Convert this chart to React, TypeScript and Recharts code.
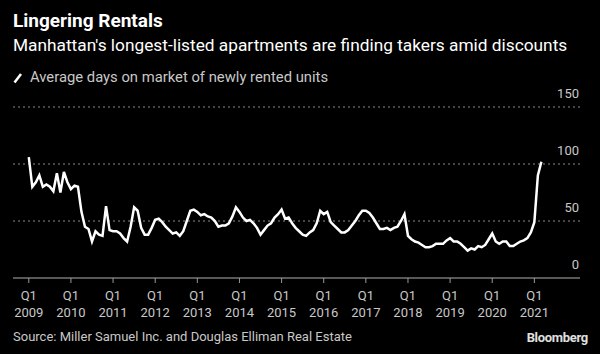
import React from "react";
import { LineChart, Line, XAxis, YAxis, CartesianGrid } from "recharts";

// Monthly average days on market, Jan 2009 - Mar 2021
const daysOnMarket: number[] = [
  106, 80, 84, 90, 80, 82, 80, 76, 92, 75, 93, 84, // 2009
  78, 81, 80, 58, 45, 43, 32, 41, 38, 37, 63, 42, // 2010
  41, 41, 39, 35, 32, 45, 62, 59, 44, 38, 38, 44, // 2011
  51, 52, 49, 45, 42, 39, 40, 37, 41, 50, 59, 60, // 2012
  58, 55, 56, 54, 53, 50, 45, 46, 46, 48, 54, 62, // 2013
  58, 53, 50, 51, 48, 44, 38, 42, 46, 48, 53, 56, // 2014
  60, 52, 53, 48, 44, 41, 38, 37, 40, 42, 48, 59, // 2015
  56, 58, 49, 46, 43, 40, 40, 42, 46, 50, 55, 59, // 2016
  59, 57, 53, 48, 43, 43, 44, 42, 44, 45, 50, 56, // 2017
  37, 34, 32, 31, 29, 27, 27, 28, 30, 30, 30, 33, // 2018
  35, 32, 32, 30, 27, 24, 26, 25, 28, 27, 29, 34, // 2019
  39, 32, 30, 32, 32, 28, 28, 30, 32, 33, 35, 40, // 2020
  49, 90, 102, // 2021
];

const startYear = 2009;
const tickYears = ["2009", "2010", "2011", "2012", "2013", "2014", "2015", "2016", "2017", "2018", "2019", "2020", "2021"];
const yTicks = [0, 50, 100, 150];

const data = daysOnMarket.map((v, i) => ({
  idx: i,
  month: `${startYear + Math.floor(i / 12)}-${String((i % 12) + 1).padStart(2, "0")}`,
  days: v,
}));

const xTicks = tickYears.map((_, i) => i * 12);

const FONT = "Roboto, 'Noto Sans', sans-serif";

const XTick = (props: any) => {
  const { x, y, payload } = props;
  const year = tickYears[payload.value / 12];
  return (
    <g>
      <line x1={x} x2={x} y1={y - 8} y2={y - 3} stroke="#9a9a9a" strokeWidth={1} />
      <text x={x} y={y + 14} textAnchor="middle" fill="#c8c8c8" fontSize={13} fontFamily={FONT}>
        Q1
      </text>
      <text x={x} y={y + 31} textAnchor="middle" fill="#c8c8c8" fontSize={13} fontFamily={FONT}>
        {year}
      </text>
    </g>
  );
};

const YTick = (props: any) => {
  const { y, payload } = props;
  return (
    <text x={579} y={y - 9} textAnchor="end" fill="#c8c8c8" fontSize={13} fontFamily={FONT}>
      {payload.value}
    </text>
  );
};

export default function App() {
  return (
    <div
      style={{
        position: "absolute",
        top: 0,
        left: 0,
        width: 600,
        height: 354,
        background: "#000",
        overflow: "hidden",
        fontFamily: FONT,
      }}
    >
      <div style={{ position: "absolute", left: 13, top: 9, color: "#fff", fontSize: 19, fontWeight: 700 }}>
        Lingering Rentals
      </div>
      <div style={{ position: "absolute", left: 13, top: 35, color: "#fff", fontSize: 17.3 }}>
        Manhattan's longest-listed apartments are finding takers amid discounts
      </div>
      <svg style={{ position: "absolute", left: 13, top: 72 }} width={10} height={12}>
        <line x1={1.5} y1={10.5} x2={8} y2={2} stroke="#fff" strokeWidth={2.5} />
      </svg>
      <div style={{ position: "absolute", left: 30, top: 68, color: "#c8c8c8", fontSize: 14.8 }}>
        Average days on market of newly rented units
      </div>

      <div style={{ position: "absolute", left: 0, top: 0 }}>
        <LineChart
          width={600}
          height={354}
          data={data}
          margin={{ top: 107, right: 19, left: 13, bottom: 36 }}
        >
          <CartesianGrid
            horizontal
            vertical={false}
            stroke="#8a8a8a"
            strokeDasharray="2 3"
            horizontalValues={[50, 100, 150]}
          />
          <XAxis
            dataKey="idx"
            type="number"
            domain={[-4.5, 157]}
            ticks={xTicks}
            tick={<XTick />}
            tickLine={false}
            axisLine={{ stroke: "#b0b0b0", strokeWidth: 1 }}
            height={40}
            interval={0}
            allowDataOverflow
          />
          <YAxis
            orientation="right"
            domain={[0, 150]}
            ticks={yTicks}
            width={1}
            axisLine={false}
            tickLine={false}
            tick={<YTick />}
            interval={0}
          />
          <Line
            type="linear"
            dataKey="days"
            stroke="#ffffff"
            strokeWidth={2.5}
            dot={false}
            isAnimationActive={false}
          />
        </LineChart>
      </div>

      <div style={{ position: "absolute", left: 13, top: 329, color: "#c8c8c8", fontSize: 13 }}>
        Source: Miller Samuel Inc. and Douglas Elliman Real Estate
      </div>
      <div
        style={{
          position: "absolute",
          right: 12,
          top: 330,
          color: "#e0e0e0",
          fontSize: 13,
          fontWeight: 700,
          letterSpacing: -0.3,
        }}
      >
        Bloomberg
      </div>
    </div>
  );
}
